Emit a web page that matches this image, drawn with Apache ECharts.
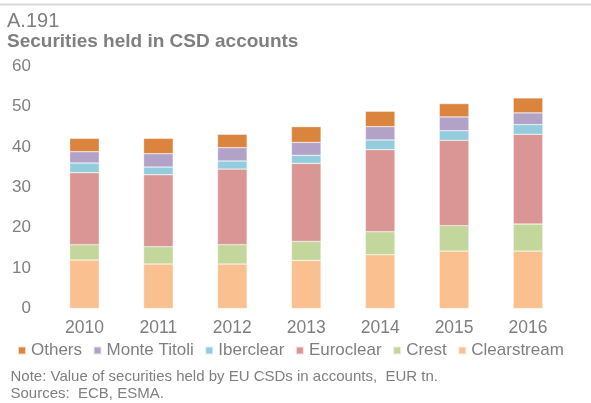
<!DOCTYPE html>
<html><head><meta charset="utf-8">
<script src="https://cdn.jsdelivr.net/npm/echarts@6/dist/echarts.min.js"></script>
<style>html,body{margin:0;padding:0;background:#fff}#c{width:591px;height:403px}</style>
</head><body><div id="c"></div>
<script>
const years = ['2010','2011','2012','2013','2014','2015','2016'];
const clearstream = [12.0, 11.0, 11.0, 11.9, 13.3, 14.2, 14.2];
const crest       = [3.8, 4.3, 4.8, 4.7, 5.7, 6.3, 6.7];
const euroclear   = [17.8, 17.8, 18.7, 19.3, 20.3, 21.1, 22.2];
const iberclear   = [2.4, 1.9, 2.0, 2.0, 2.4, 2.4, 2.4];
const monteTitoli = [2.8, 3.3, 3.3, 3.2, 3.3, 3.4, 2.9];
const others      = [3.3, 3.8, 3.3, 3.9, 3.8, 3.3, 3.7];
const yTicks = [0, 10, 20, 30, 40, 50, 60];

const font = 'Liberation Sans, Arial, sans-serif';
const grey = '#7f7f7f';
const seriesDefs = [
  ['Clearstream', clearstream, '#FAC090'],
  ['Crest', crest, '#C3D69B'],
  ['Euroclear', euroclear, '#D99694'],
  ['Iberclear', iberclear, '#93CDDD'],
  ['Monte Titoli', monteTitoli, '#B3A2C7'],
  ['Others', others, '#DB843D']
];
const chart = echarts.init(document.getElementById('c'), null, {renderer:'canvas'});
chart.setOption({
  animation: false,
  backgroundColor: '#fff',
  graphic: [
    {type:'rect', shape:{x:0,y:3.5,width:591,height:2}, style:{fill:'#d9d9d9'}},
    {type:'text', left:7, top:11.3, style:{text:'A.191', font:'20px '+font, fill:grey}},
    {type:'text', left:7, top:32.3, style:{text:'Securities held in CSD accounts', font:'bold 19px '+font, fill:grey}},
    {type:'text', left:10.5, top:369.2, style:{text:'Note: Value of securities held by EU CSDs in accounts,  EUR tn.', font:'15px '+font, fill:grey}},
    {type:'text', left:10.5, top:386.7, style:{text:'Sources:  ECB, ESMA.', font:'15px '+font, fill:grey}}
  ],
  legend: {
    data: ['Others','Monte Titoli','Iberclear','Euroclear','Crest','Clearstream'],
    left: 17, top: 342, padding: 0, itemWidth: 8, itemHeight: 8, itemGap: 10.5,
    icon: 'rect',
    textStyle: {fontFamily: font, fontSize: 17, color: grey}
  },
  grid: {left: 47.5, right: 26, top: 66, bottom: 94.5},
  xAxis: {
    type: 'category', data: years,
    axisLine: {show:false}, axisTick:{show:false},
    axisLabel: {fontFamily: font, fontSize: 17.5, color: grey, margin: 11}
  },
  yAxis: {
    type: 'value', min: 0, max: 60, interval: 10,
    splitLine: {show:false}, axisLine:{show:false}, axisTick:{show:false},
    axisLabel: {fontFamily: font, fontSize: 17, color: grey, margin: 16.5,
      formatter: v => yTicks.includes(v) ? String(v) : ''}
  },
  series: seriesDefs.map(([name, data, color]) => ({
    name, type: 'bar', stack: 'total', data, barWidth: '40%',
    itemStyle: {color, borderColor: 'rgba(255,255,255,0.7)', borderWidth: 0.5}
  }))
});
</script></body></html>
